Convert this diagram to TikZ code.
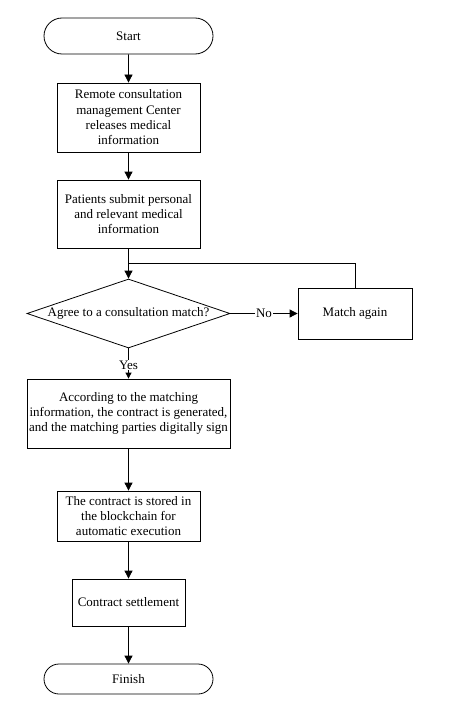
\documentclass[tikz,border=0pt]{standalone}
\usepackage{fontspec}
\setmainfont{Liberation Serif}
\usetikzlibrary{shapes.geometric,shapes.misc,arrows.meta}
\begin{document}
\begin{tikzpicture}[x=1pt,y=-1pt,
  every node/.style={font=\fontsize{13}{15.3}\selectfont, align=center, inner sep=0pt},
  box/.style={draw, line width=0.8pt, rectangle},
  term/.style={draw, line width=0.8pt, rounded rectangle},
  dec/.style={draw, line width=0.8pt, diamond, aspect=2.94},
  conn/.style={line width=0.8pt, -{Triangle[length=8pt,width=8pt]}},
  lab/.style={fill=white, inner sep=1pt}]
\useasboundingbox (0,0) rectangle (452,706);
\node[term, minimum width=169pt, minimum height=36pt] (start) at (128.5,36) {Start};
\node[box, minimum width=143pt, minimum height=69pt] (b1) at (128.5,117.5) {Remote consultation\\management Center\\releases medical\\information};
\node[box, minimum width=143pt, minimum height=68pt] (b2) at (128.5,214) {Patients submit personal\\and relevant medical\\information};
\node[dec, minimum width=203pt, minimum height=69pt] (d) at (128.5,313.5) {Agree to a consultation match?};
\node[box, minimum width=114pt, minimum height=51pt] (m) at (355,313.5) {Match again};
\node[box, minimum width=203pt, minimum height=69pt] (b3) at (128.5,413.5) {According to the matching\\information, the contract is generated,\\and the matching parties digitally sign};
\node[box, minimum width=143pt, minimum height=50pt] (b4) at (128.5,516) {The contract is stored in\\the blockchain for\\automatic execution};
\node[box, minimum width=113pt, minimum height=47pt] (b5) at (128.5,602.5) {Contract settlement};
\node[term, minimum width=169pt, minimum height=30pt] (fin) at (128.5,679) {Finish};
\coordinate (j) at (128.5,263);
\draw[conn] (start) -- (b1);
\draw[conn] (b1) -- (b2);
\draw[conn] (b2) -- (d);
\draw[line width=0.8pt] (m.north) |- (j);
\draw[conn] (d) -- node[lab] {No} (m);
\draw[line width=0.8pt, -{Triangle[length=6pt,width=6pt]}] (d) -- node[lab, pos=0.55] {Yes} (b3);
\draw[conn] (b3) -- (b4);
\draw[conn] (b4) -- (b5);
\draw[conn] (b5) -- (fin);
\end{tikzpicture}
\end{document}
